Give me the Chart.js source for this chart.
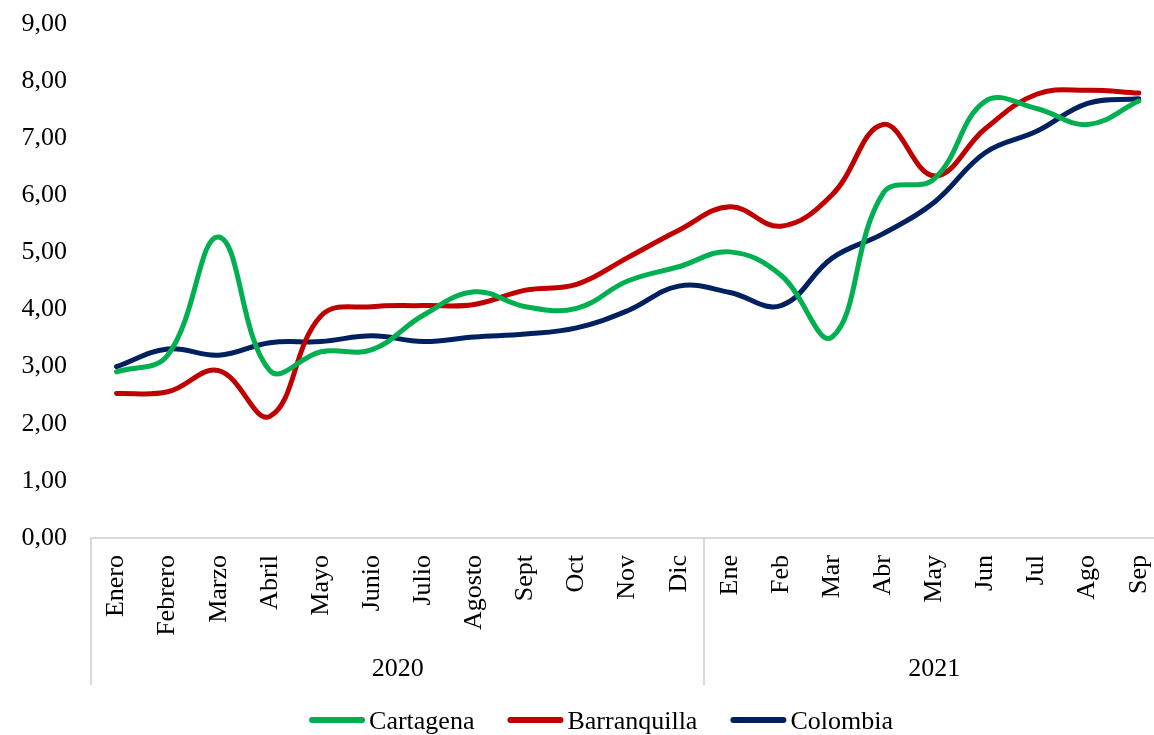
<!DOCTYPE html>
<html>
<head>
<meta charset="utf-8">
<script src="https://cdn.jsdelivr.net/npm/chart.js@4/dist/chart.umd.min.js"></script>
<style>
  html, body { margin: 0; padding: 0; background: #ffffff; overflow: hidden; }
  #wrap { width: 1187px; height: 735px; }
</style>
</head>
<body>
<div id="wrap"><canvas id="c" width="1187" height="735"></canvas></div>
<script>
const months = ['Enero','Febrero','Marzo','Abril','Mayo','Junio','Julio','Agosto','Sept','Oct','Nov','Dic',
                'Ene','Feb','Mar','Abr','May','Jun','Jul','Ago','Sep'];
const years = ['2020', '2021'];
const yearSpans = [12, 9];

const cartagena    = [2.91, 3.20, 5.27, 2.93, 3.26, 3.30, 3.90, 4.31, 4.05, 4.02, 4.50, 4.75, 5.01, 4.60, 3.52, 6.04, 6.29, 7.65, 7.52, 7.24, 7.65];
const barranquilla = [2.53, 2.56, 2.93, 2.13, 3.89, 4.05, 4.07, 4.09, 4.34, 4.44, 4.91, 5.39, 5.80, 5.46, 6.01, 7.24, 6.34, 7.17, 7.77, 7.84, 7.79];
const colombia     = [3.00, 3.31, 3.20, 3.42, 3.44, 3.54, 3.44, 3.52, 3.57, 3.68, 3.98, 4.41, 4.30, 4.07, 4.90, 5.33, 5.88, 6.75, 7.12, 7.61, 7.69];

const seriesNames = ['Cartagena', 'Barranquilla', 'Colombia'];
const seriesColors = ['#00B050', '#C00000', '#002060'];

const FONT = '"Liberation Serif", "Times New Roman", serif';

const groupPlugin = {
  id: 'groupAxis',
  afterDraw(chart) {
    const ctx = chart.ctx;
    const xs = chart.scales.x;
    const area = chart.chartArea;
    const bottom = area.bottom;
    ctx.save();
    // separators
    ctx.strokeStyle = '#d9d9d9';
    ctx.lineWidth = 2;
    let idx = 0;
    const bounds = [xs.left];
    yearSpans.forEach((n) => {
      idx += n;
      if (idx < months.length) {
        bounds.push((xs.getPixelForTick(idx - 1) + xs.getPixelForTick(idx)) / 2);
      } else {
        bounds.push(xs.right);
      }
    });
    bounds.forEach(b => {
      ctx.beginPath();
      ctx.moveTo(Math.round(b), bottom);
      ctx.lineTo(Math.round(b), bottom + 147);
      ctx.stroke();
    });
    // year labels
    ctx.fillStyle = '#000000';
    ctx.font = '26px ' + FONT;
    ctx.textAlign = 'center';
    ctx.textBaseline = 'middle';
    years.forEach((y, g) => {
      ctx.fillText(y, (bounds[g] + bounds[g + 1]) / 2, bottom + 131);
    });
    // legend
    const lineW = 56, gapText = 4, gapItem = 33;
    const widths = chart.data.datasets.map(ds => ctx.measureText(ds.label).width);
    const total = widths.reduce((a, w) => a + lineW + gapText + w, 0) + gapItem * (widths.length - 1);
    let x = 601 - total / 2;
    const ly = 722;
    ctx.textAlign = 'left';
    chart.data.datasets.forEach((ds, i) => {
      ctx.strokeStyle = ds.borderColor;
      ctx.lineWidth = 6;
      ctx.lineCap = 'round';
      ctx.beginPath();
      ctx.moveTo(x + 3, ly - 2);
      ctx.lineTo(x + lineW - 3, ly - 2);
      ctx.stroke();
      ctx.fillStyle = '#000000';
      ctx.fillText(ds.label, x + lineW + gapText, ly);
      x += lineW + gapText + widths[i] + gapItem;
    });
    ctx.restore();
  }
};

const seriesData = [cartagena, barranquilla, colombia];

new Chart(document.getElementById('c'), {
  type: 'line',
  data: {
    labels: months,
    datasets: seriesData.map((d, i) => ({
      label: seriesNames[i],
      data: d,
      borderColor: seriesColors[i],
      backgroundColor: seriesColors[i],
      borderWidth: 5,
      pointRadius: 0,
      pointHoverRadius: 0,
      tension: 0.4,
      fill: false,
      borderCapStyle: 'round',
      borderJoinStyle: 'round'
    }))
  },
  options: {
    responsive: false,
    devicePixelRatio: 1,
    animation: false,
    layout: { padding: { top: 24, right: 1, bottom: 0, left: 0 } },
    plugins: {
      legend: { display: false },
      tooltip: { enabled: false }
    },
    scales: {
      x: {
        type: 'category',
        offset: true,
        grid: { display: false, drawTicks: false },
        border: { display: true, color: '#d9d9d9', width: 2 },
        ticks: {
          autoSkip: false,
          minRotation: 90,
          maxRotation: 90,
          padding: 17,
          color: '#000000',
          font: { family: FONT, size: 26 }
        },
        afterFit(scale) { scale.height = 197; }
      },
      y: {
        min: 0,
        max: 9,
        grid: { display: false, drawTicks: false },
        border: { display: false },
        ticks: {
          stepSize: 1,
          padding: 24,
          color: '#000000',
          font: { family: FONT, size: 26 },
          callback: v => Number(v).toFixed(2).replace('.', ',')
        },
        afterFit(scale) { scale.width = 91; scale.paddingTop = 0; scale.paddingBottom = 0; }
      }
    }
  },
  plugins: [groupPlugin]
});
</script>
</body>
</html>
